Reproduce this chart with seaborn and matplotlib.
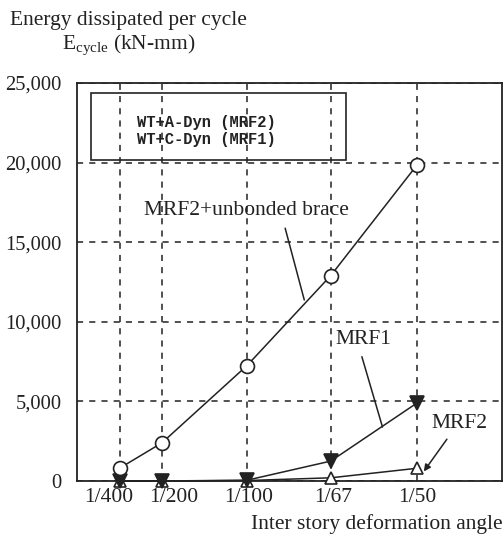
import numpy as np
import pandas as pd
import matplotlib
matplotlib.use("Agg")
import matplotlib.pyplot as plt
import matplotlib.transforms as mtransforms
from matplotlib.patches import Rectangle
from matplotlib.ticker import FuncFormatter
import seaborn as sns

# Inter story deformation angles and their labels
angles = [1 / 400, 1 / 200, 1 / 100, 1 / 67, 1 / 50]
angle_labels = ["1/400", "1/200", "1/100", "1/67", "1/50"]

# Energy dissipated per cycle (kN-mm)
mrf2_brace = [800, 2400, 7250, 12900, 19850]
mrf1 = [0, 0, 50, 1250, 4900]
mrf2 = [0, 0, 30, 200, 800]

legend_lines = ["WT+A-Dyn (MRF2)", "WT+C-Dyn (MRF1)"]

sns.set_theme(style="white")
plt.rcParams["font.family"] = ["Liberation Serif", "DejaVu Serif"]
plt.rcParams["mathtext.fontset"] = "custom"
plt.rcParams["mathtext.rm"] = "Liberation Serif"

FS = 15.5
INK = "#222222"

df = pd.DataFrame({
    "angle": angles * 3,
    "energy": mrf2_brace + mrf1 + mrf2,
    "series": ["MRF2+unbonded brace"] * 5 + ["MRF1"] * 5 + ["MRF2"] * 5,
})

fig = plt.figure(figsize=(5.04, 5.46), dpi=100)
ax = fig.add_axes([77 / 504, 1 - 481 / 546, 425 / 504, 398 / 546])

styles = {
    "MRF2+unbonded brace": dict(marker="o", markersize=10, markerfacecolor="white"),
    "MRF1": dict(marker="v", markersize=10, markerfacecolor=INK),
    "MRF2": dict(marker="^", markersize=9, markerfacecolor="white"),
}
for name in ["MRF2", "MRF1", "MRF2+unbonded brace"]:
    sub = df[df["series"] == name]
    sns.lineplot(data=sub, x="angle", y="energy", ax=ax, color=INK,
                 linewidth=1.1, markeredgecolor=INK, markeredgewidth=1.2,
                 clip_on=False, zorder=4, legend=False, **styles[name])

ax.set_xlim(0, 0.025)
ax.set_ylim(0, 25000)
ax.set_xticks(angles)
ax.set_xticklabels(angle_labels)
ax.set_yticks(np.arange(0, 25001, 5000))
ax.yaxis.set_major_formatter(FuncFormatter(lambda v, p: f"{int(v):,}"))
ax.set_xlabel("")
ax.set_ylabel("")

ax.tick_params(axis="both", length=0, colors=INK)
ax.tick_params(axis="y", pad=11, labelsize=14.8)
ax.tick_params(axis="x", pad=5, labelsize=FS)

# spread the two crowded labels at the left apart
shifts = [-11, 12, 2, 2, 0]
for lab, dx in zip(ax.get_xticklabels(), shifts):
    lab.set_transform(lab.get_transform() +
                      mtransforms.ScaledTranslation(dx / 100, 0, fig.dpi_scale_trans))

ax.grid(True, which="major", color=INK, linestyle=(0, (4, 4)), linewidth=1.1)
for s in ax.spines.values():
    s.set_color(INK)
    s.set_linewidth(1.3)
    s.set_visible(True)

# boxed legend text
ax.add_patch(Rectangle((0.0008, 20150), 0.0150, 4220, fill=False,
                       edgecolor=INK, linewidth=1.2, zorder=3))
mono = ["Liberation Mono", "DejaVu Sans Mono"]
ax.text(0.00762, 22490, legend_lines[0], family=mono, fontweight="bold",
        fontsize=11.2, ha="center", va="center", color=INK)
ax.text(0.00762, 21420, legend_lines[1], family=mono, fontweight="bold",
        fontsize=11.2, ha="center", va="center", color=INK)

# series annotations
ax.annotate("MRF2+unbonded brace", xy=(0.01337, 11370), xytext=(0.00994, 17020),
            fontsize=FS, ha="center", va="center", color=INK,
            arrowprops=dict(arrowstyle="-", color=INK, lw=1.1,
                            shrinkA=4, shrinkB=0, relpos=(0.68, 0.0)))
ax.annotate("MRF1", xy=(0.01797, 3390), xytext=(0.01683, 8860),
            fontsize=FS, ha="center", va="center", color=INK,
            arrowprops=dict(arrowstyle="-", color=INK, lw=1.1,
                            shrinkA=3, shrinkB=0, relpos=(0.44, 0.0)))
ax.annotate("MRF2", xy=(0.02040, 600), xytext=(0.02250, 3640),
            fontsize=FS, ha="center", va="center", color=INK,
            arrowprops=dict(arrowstyle="-|>", color=INK, lw=1.1,
                            mutation_scale=10, shrinkA=3, shrinkB=0,
                            relpos=(0.36, 0.0)))

# axis titles
fig.text(10 / 504, 1 - 20 / 546, "Energy dissipated per cycle", fontsize=FS,
         ha="left", va="center", color=INK)
fig.text(62 / 504, 1 - 45 / 546, r"E$_{\rm cycle}$ (kN-mm)", fontsize=FS,
         ha="left", va="center", color=INK)
fig.text(503 / 504, 1 - 524 / 546, "Inter story deformation angle", fontsize=FS,
         ha="right", va="center", color=INK)

fig.savefig("out.png", dpi=100, facecolor="white")
